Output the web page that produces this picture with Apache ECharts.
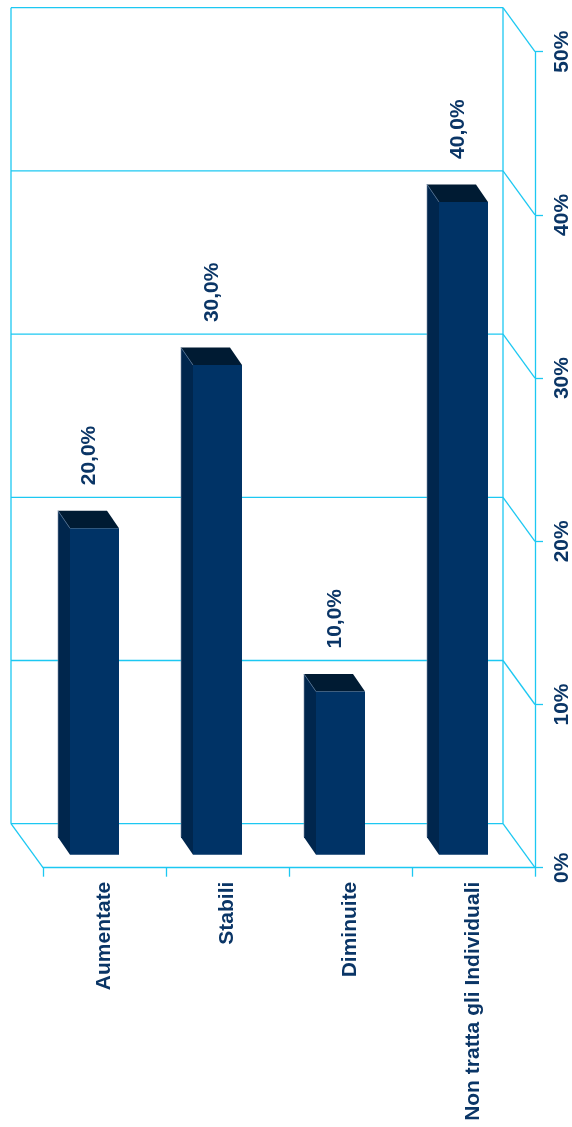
<!DOCTYPE html>
<html>
<head>
<meta charset="utf-8">
<script src="https://cdn.jsdelivr.net/npm/echarts@6/dist/echarts.min.js"></script>
<style>
  html, body { margin: 0; padding: 0; background: #ffffff; }
  #chart { width: 572px; height: 1127px; }
</style>
</head>
<body>
<div id="chart"></div>
<script>
// Categories and percentages
const categories = ['Aumentate', 'Stabili', 'Diminuite', 'Non tratta gli Individuali'];
const percentages = [20.0, 30.0, 10.0, 40.0];
// Value axis ticks (percent)
const valueTicks = [0, 10, 20, 30, 40, 50];

// Styling
const GRID_COLOR = '#1cc8f2';
const TEXT_COLOR = '#0a3566';
const FONT = 'Liberation Sans, Arial, sans-serif';
const FACE_FRONT = '#003366';
const FACE_SIDE = '#00264d';
const FACE_TOP = '#001b33';

// Oblique depth of the chart box (back wall relative to the front plane)
const WALL_DX = -32, WALL_DY = -44;
// Bar placement inside the box and bar depth
const BAR_LEFT = -34.5, BAR_W = 49, BAR_SHIFT_Y = -13;
const BAR_DX = -12, BAR_DY = -17.5;

const fmtPct = v => v.toFixed(1).replace('.', ',') + '%';

const chart = echarts.init(document.getElementById('chart'), null, { renderer: 'canvas' });

function renderFrame(params, api) {
  const cs = params.coordSys;
  const v = api.value(0);
  const p = api.coord([0, v]);
  const left = cs.x, right = cs.x + cs.width;
  const yFront = p[1];
  const yBack = yFront + WALL_DY;
  const line = (x1, y1, x2, y2) => ({
    type: 'line',
    shape: { x1, y1, x2, y2 },
    style: { stroke: GRID_COLOR, lineWidth: 1.3 }
  });
  const children = [
    // back wall gridline
    line(left + WALL_DX, yBack, right + WALL_DX, yBack),
    // right side wall link to the value axis
    line(right + WALL_DX, yBack, right, yFront)
  ];
  if (params.dataIndex === 0) {
    const yTopBack = api.coord([0, valueTicks[valueTicks.length - 1]])[1] + WALL_DY;
    children.push(line(left + WALL_DX, yTopBack, left + WALL_DX, yBack));
    children.push(line(right + WALL_DX, yTopBack, right + WALL_DX, yBack));
    // floor left edge
    children.push(line(left + WALL_DX, yBack, left, yFront));
  }
  return { type: 'group', children };
}

function renderBar(params, api) {
  const i = api.value(0);
  const v = api.value(1);
  const base = api.coord([i, 0]);
  const top = api.coord([i, v]);
  const x0 = base[0] + BAR_LEFT;
  const x1 = x0 + BAR_W;
  const yb = base[1] + BAR_SHIFT_Y;
  const yt = top[1] + BAR_SHIFT_Y;
  return {
    type: 'group',
    children: [
      {
        type: 'polygon',
        shape: { points: [[x0, yt], [x0 + BAR_DX, yt + BAR_DY], [x0 + BAR_DX, yb + BAR_DY], [x0, yb]] },
        style: { fill: FACE_SIDE }
      },
      {
        type: 'polygon',
        shape: { points: [[x0, yt], [x1, yt], [x1 + BAR_DX, yt + BAR_DY], [x0 + BAR_DX, yt + BAR_DY]] },
        style: { fill: FACE_TOP }
      },
      {
        type: 'rect',
        shape: { x: x0, y: yt, width: BAR_W, height: yb - yt },
        style: { fill: FACE_FRONT }
      },
      {
        type: 'line',
        shape: { x1: x0, y1: yt, x2: x0 + BAR_DX, y2: yt + BAR_DY },
        style: { stroke: '#4d6d92', lineWidth: 0.8 }
      },
      {
        type: 'line',
        shape: { x1: x0 + BAR_DX, y1: yt + BAR_DY, x2: x0 + BAR_DX, y2: yb + BAR_DY },
        style: { stroke: '#7d8fa6', lineWidth: 0.6 }
      },
      {
        type: 'text',
        x: x0 + BAR_W / 2 - 5,
        y: top[1] - 56,
        rotation: Math.PI / 2,
        style: {
          text: fmtPct(v),
          fill: TEXT_COLOR,
          font: 'bold 21px ' + FONT,
          align: 'left',
          verticalAlign: 'middle'
        }
      }
    ]
  };
}

chart.setOption({
  animation: false,
  backgroundColor: '#ffffff',
  grid: {
    left: 43, right: 37, top: 51.7, bottom: 259.3,
    containLabel: false,
    outerBoundsMode: 'none'
  },
  xAxis: {
    type: 'category',
    data: categories,
    boundaryGap: true,
    axisLine: { show: true, lineStyle: { color: GRID_COLOR, width: 1.3 } },
    axisTick: { show: true, length: 9, alignWithLabel: false, lineStyle: { color: GRID_COLOR, width: 1.3 } },
    axisLabel: {
      interval: 0,
      rotate: 90,
      margin: 14,
      color: TEXT_COLOR,
      fontFamily: FONT,
      fontWeight: 'bold',
      fontSize: 21
    },
    splitLine: { show: false }
  },
  yAxis: {
    type: 'value',
    position: 'right',
    min: valueTicks[0],
    max: valueTicks[valueTicks.length - 1],
    interval: valueTicks[1] - valueTicks[0],
    axisLine: { show: true, lineStyle: { color: GRID_COLOR, width: 1.3 } },
    axisTick: { show: true, length: 8, lineStyle: { color: GRID_COLOR, width: 1.3 } },
    axisLabel: {
      rotate: 90,
      margin: 17,
      color: TEXT_COLOR,
      fontFamily: FONT,
      fontWeight: 'bold',
      fontSize: 21,
      formatter: v => v + '%'
    },
    splitLine: { show: false }
  },
  series: [
    {
      type: 'custom',
      name: 'frame',
      z: 1,
      silent: true,
      renderItem: renderFrame,
      data: valueTicks.map(v => [v])
    },
    {
      type: 'custom',
      name: 'percentuali',
      z: 3,
      renderItem: renderBar,
      data: percentages.map((v, i) => [i, v])
    }
  ]
});
</script>
</body>
</html>
